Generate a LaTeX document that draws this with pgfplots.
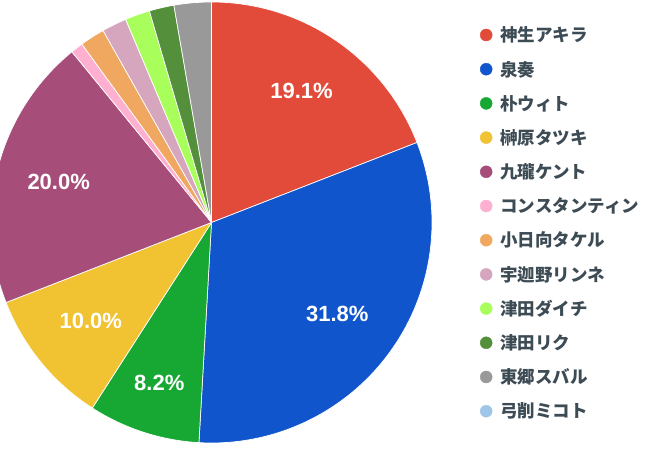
\documentclass[border=0pt]{standalone}
\usepackage{pgfplots}
\pgfplotsset{compat=1.18}
\usepackage{pgfplotstable}
\usepackage{fontspec}
\setmainfont{Liberation Sans}
\newfontfamily\cjk{Noto Sans CJK JP}
\definecolor{cA}{HTML}{E24B3A}
\definecolor{cB}{HTML}{1155CC}
\definecolor{cC}{HTML}{16A833}
\definecolor{cD}{HTML}{F1C232}
\definecolor{cE}{HTML}{A64D79}
\definecolor{cF}{HTML}{FFB0D0}
\definecolor{cG}{HTML}{F0A860}
\definecolor{cH}{HTML}{D5A6BD}
\definecolor{cI}{HTML}{A8FF5C}
\definecolor{cJ}{HTML}{548F3B}
\definecolor{cK}{HTML}{999999}
\definecolor{cL}{HTML}{9FC5E8}
\definecolor{legtext}{HTML}{3D4B55}

\pgfplotstableread{
count col lr
21 cA 159.5
35 cB 155.5
9 cC 169
11 cD 156
22 cE 158
1 cF 160
2 cG 160
2 cH 160
2 cI 160
2 cJ 160
3 cK 160
0 cL 160
}\piedata

\begin{document}
\begin{tikzpicture}
\useasboundingbox (0,0) rectangle (659bp,449bp);
\begin{axis}[
  at={(0bp,0bp)}, anchor=south west,
  scale only axis, width=659bp, height=449bp,
  xmin=0, xmax=659, ymin=0, ymax=449,
  hide axis, clip=true,
  legend cell align=left,
  legend image code/.code={\fill[#1] (0bp,0bp) circle (6bp);},
  legend style={at={(axis cs:480,431.1)}, anchor=north west, draw=none, fill=none,
    inner sep=0pt, outer sep=0pt, column sep=8bp, row sep=0pt,
    nodes={inner sep=0pt, minimum height=34.2bp, text=legtext},
    font=\cjk\bfseries\fontsize{17.5bp}{17.5bp}\selectfont},
]
\pgfplotsextra{
  \pgfplotstablegetrowsof{\piedata}
  \pgfmathtruncatemacro\nrows{\pgfplotsretval-1}
  \gdef\pietotal{0}
  \foreach \i in {0,...,\nrows}{
    \pgfplotstablegetelem{\i}{count}\of\piedata
    \pgfmathsetmacro\newtot{\pietotal+\pgfplotsretval}
    \xdef\pietotal{\newtot}
  }
  \gdef\piecum{0}
  \foreach \i in {0,...,\nrows}{
    \pgfplotstablegetelem{\i}{count}\of\piedata \let\sliceval\pgfplotsretval
    \pgfplotstablegetelem{\i}{col}\of\piedata \let\slicecol\pgfplotsretval
    \pgfplotstablegetelem{\i}{lr}\of\piedata \let\labrad\pgfplotsretval
    \pgfmathsetmacro\aA{90-\piecum/\pietotal*360}
    \pgfmathsetmacro\aB{90-(\piecum+\sliceval)/\pietotal*360}
    \pgfmathsetmacro\pct{\sliceval/\pietotal*100}
    \ifdim \sliceval pt>0pt
      \fill[\slicecol, draw=white, line width=0.7bp] (axis cs:211.5,226.5) -- ++(\aA:220.5bp)
        arc[start angle=\aA, end angle=\aB, radius=220.5bp] -- cycle;
    \fi
    \ifdim \pct pt>5pt
      \pgfmathsetmacro\am{(\aA+\aB)/2}
      \path (axis cs:211.5,226.5) ++(\am:\labrad bp) node[text=white, font=\bfseries\fontsize{22bp}{22bp}\selectfont, inner sep=0pt]
        {\pgfmathprintnumber[fixed, precision=1, fixed zerofill, assume math mode=true]{\pct}\%};
    \fi
    \pgfmathsetmacro\newcum{\piecum+\sliceval}
    \xdef\piecum{\newcum}
  }
}
\addlegendimage{cA}\addlegendentry{神生アキラ}
\addlegendimage{cB}\addlegendentry{泉奏}
\addlegendimage{cC}\addlegendentry{朴ウィト}
\addlegendimage{cD}\addlegendentry{榊原タツキ}
\addlegendimage{cE}\addlegendentry{九瓏ケント}
\addlegendimage{cF}\addlegendentry{コンスタンティン}
\addlegendimage{cG}\addlegendentry{小日向タケル}
\addlegendimage{cH}\addlegendentry{宇迦野リンネ}
\addlegendimage{cI}\addlegendentry{津田ダイチ}
\addlegendimage{cJ}\addlegendentry{津田リク}
\addlegendimage{cK}\addlegendentry{東郷スバル}
\addlegendimage{cL}\addlegendentry{弓削ミコト}
\end{axis}
\end{tikzpicture}
\end{document}
